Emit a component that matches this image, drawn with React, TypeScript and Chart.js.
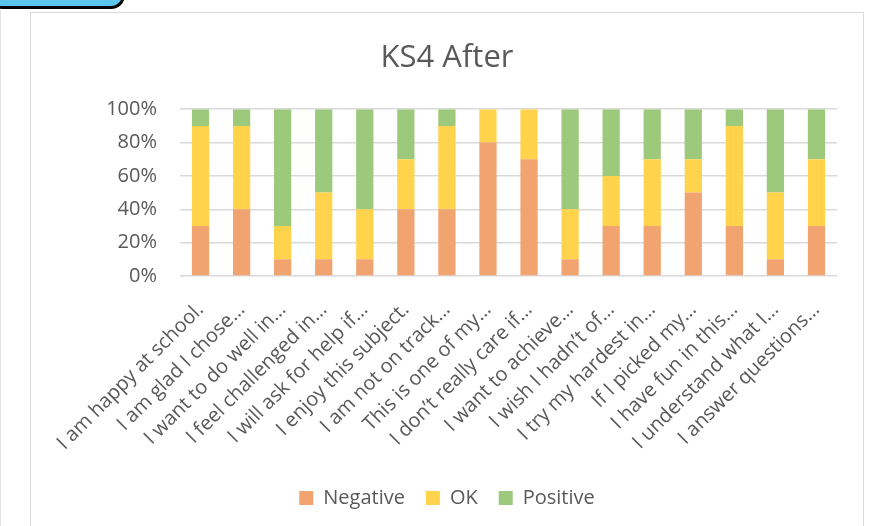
import React, { useEffect, useRef } from "react";
import { Chart, registerables } from "chart.js";

Chart.register(...registerables);

const categories = [
  "I am happy at school.",
  "I am glad I chose…",
  "I want to do well in…",
  "I feel challenged in…",
  "I will ask for help if…",
  "I enjoy this subject.",
  "I am not on track…",
  "This is one of my…",
  "I don’t really care if…",
  "I want to achieve…",
  "I wish I hadn’t of…",
  "I try my hardest in…",
  "If I picked my…",
  "I have fun in this…",
  "I understand what I…",
  "I answer questions…",
];

const negativeValues = [30, 40, 10, 10, 10, 40, 40, 80, 70, 10, 30, 30, 50, 30, 10, 30];
const okValues = [60, 50, 20, 40, 30, 30, 50, 20, 30, 30, 30, 40, 20, 60, 40, 40];
const positiveValues = [10, 10, 70, 50, 60, 30, 10, 0, 0, 60, 40, 30, 30, 10, 50, 30];

const yTicks = [0, 20, 40, 60, 80, 100];

const FONT = "'Open Sans', 'Noto Sans', sans-serif";
const TEXT = "#595959";

export default function App() {
  const ref = useRef<HTMLCanvasElement | null>(null);

  useEffect(() => {
    if (!ref.current) return;
    const chart = new Chart(ref.current, {
      type: "bar",
      data: {
        labels: categories,
        datasets: [
          { label: "Negative", data: negativeValues, backgroundColor: "#F1A46F", borderWidth: 0 },
          { label: "OK", data: okValues, backgroundColor: "#FFD34B", borderWidth: 0 },
          { label: "Positive", data: positiveValues, backgroundColor: "#9CC97B", borderWidth: 0 },
        ],
      },
      options: {
        animation: false,
        responsive: false,
        maintainAspectRatio: false,
        layout: { padding: { left: 0, right: 0, top: 0, bottom: 8 } },
        datasets: { bar: { categoryPercentage: 1, barPercentage: 0.42 } } as any,
        plugins: {
          title: {
            display: true,
            text: "KS4 After",
            color: TEXT,
            font: { family: FONT, size: 31, weight: "normal" },
            padding: { top: 40, bottom: 32 },
          },
          legend: {
            display: true,
            position: "bottom",
            labels: {
              color: TEXT,
              font: { family: FONT, size: 20 },
              boxWidth: 14,
              boxHeight: 14,
              padding: 21,
            },
          },
          tooltip: { enabled: false },
        },
        scales: {
          x: {
            stacked: true,
            grid: { display: false },
            border: { display: false },
            ticks: {
              color: TEXT,
              font: { family: FONT, size: 20 },
              maxRotation: 45,
              minRotation: 45,
              autoSkip: false,
              padding: 14,
            },
            afterFit: (s: any) => {
              s.height = 191;
            },
          },
          y: {
            stacked: true,
            min: 0,
            max: 100,
            afterBuildTicks: (s: any) => {
              s.ticks = yTicks.map((v) => ({ value: v }));
            },
            grid: { color: "#D9D9D9", lineWidth: 1.5, drawTicks: false },
            border: { display: false },
            ticks: {
              color: TEXT,
              font: { family: FONT, size: 20 },
              padding: 23,
              callback: (v: any) => v + "%",
            },
            afterFit: (s: any) => {
              s.width = 149;
            },
          },
          yRight: {
            position: "right",
            display: true,
            grid: { display: false },
            border: { display: false },
            ticks: { display: false },
            afterFit: (s: any) => {
              s.width = 26;
            },
          },
        },
      },
    });
    return () => chart.destroy();
  }, []);

  return (
    <div
      style={{
        position: "fixed",
        left: 0,
        top: 0,
        width: 872,
        height: 526,
        overflow: "hidden",
        background: "#ffffff",
      }}
    >
      <div style={{ position: "absolute", left: 0, top: 10, width: 1, height: 520, background: "#E3E3E3" }} />
      <div
        style={{
          position: "absolute",
          left: 30,
          top: 12,
          width: 832,
          height: 540,
          border: "1.5px solid #D9D9D9",
        }}
      />
      <canvas
        ref={ref}
        width={832}
        height={526}
        style={{ position: "absolute", left: 31, top: 0, width: 832, height: 526 }}
      />
      <div
        style={{
          position: "absolute",
          left: -12,
          top: -22,
          width: 131,
          height: 25,
          border: "3px solid #000",
          borderRadius: 14,
          background: "#5BC4EC",
        }}
      />
    </div>
  );
}
